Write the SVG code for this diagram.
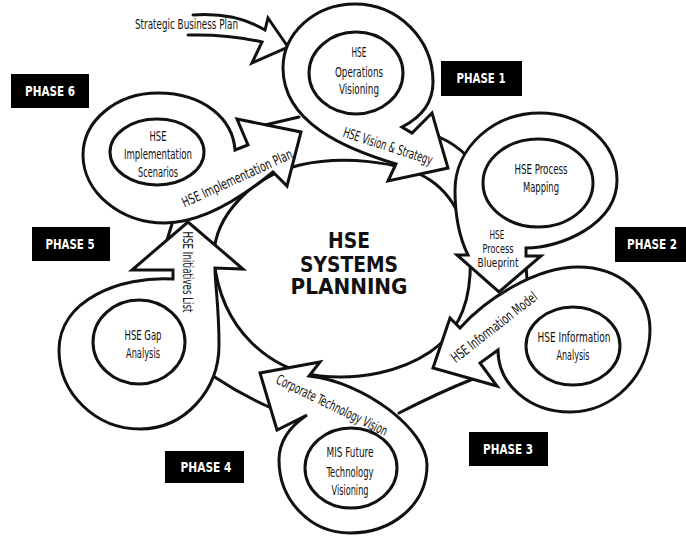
<svg xmlns="http://www.w3.org/2000/svg" width="686" height="536" viewBox="0 0 686 536">
<style>
.ln{fill:#fff;stroke:#111;stroke-width:3;stroke-linejoin:miter;stroke-linecap:round}
.cn{fill:none;stroke:#111;stroke-width:3;stroke-linecap:round}
.ar{fill:#fff;stroke:#111;stroke-width:3;stroke-linejoin:miter;stroke-linecap:round}
.t{font-family:'DejaVu Sans Condensed','Liberation Sans Narrow','Liberation Sans',sans-serif;font-size:14px;fill:#111;text-anchor:middle}
.s{font-size:11.5px}
.pb{fill:#000}
.pt{font-family:'DejaVu Sans Condensed','DejaVu Sans','Liberation Sans',sans-serif;font-weight:bold;font-size:14px;fill:#fff;text-anchor:middle}
.ct{font-family:'DejaVu Sans','Liberation Sans',sans-serif;font-weight:900;font-size:21px;fill:#111;text-anchor:middle}
</style>
<rect width="686" height="536" fill="#fff"/>

<g id="center">
<path class="ln" d="M 214,260 C 212,215 255,175 300,165 C 340,156 400,160 430,180 C 460,200 472,240 470,275 C 468,310 455,335 430,352 C 400,372 360,380 320,376 C 270,370 221,330 214,260 Z"/>
<text class="ct" x="349" y="248" textLength="42" lengthAdjust="spacingAndGlyphs">HSE</text>
<text class="ct" x="349" y="272" textLength="98" lengthAdjust="spacingAndGlyphs">SYSTEMS</text>
<text class="ct" x="349" y="294" textLength="117" lengthAdjust="spacingAndGlyphs">PLANNING</text>
</g>

<g id="connectors">
<path class="cn" d="M 265,125 L 299,117"/>
<path class="cn" d="M 439,137 Q 455,144 467,156"/>
<path class="cn" d="M 526,266 L 527,279"/>
<path class="cn" d="M 473,379 Q 440,392 399,413"/>
<path class="cn" d="M 213,376 Q 240,394 269,407"/>
<path class="cn" d="M 167,240 L 172,224"/>
<path class="ar" d="M 193,15 Q 235,12 265,30 L 268,18 L 288,47 L 252,63 L 262,42 Q 228,34 188,35"/>
<text class="t" x="186.5" y="29" textLength="103" lengthAdjust="spacingAndGlyphs">Strategic Business Plan</text>
</g>

<g id="phase1">
<path class="ln" d="M 402,127 C 420,118 433,104 433,82 C 433,39 398,4 355,4 C 315,4 283,33 283,68 C 283,123 346,149 396,164 L 388,181 L 448,168 L 432,113 L 412,133 Z"/>
<ellipse class="ln" cx="356" cy="73" rx="47" ry="41"/>
<text class="t" x="359" y="57" textLength="15" lengthAdjust="spacingAndGlyphs">HSE</text>
<text class="t" x="359" y="77" textLength="48" lengthAdjust="spacingAndGlyphs">Operations</text>
<text class="t" x="359" y="94" textLength="40" lengthAdjust="spacingAndGlyphs">Visioning</text>
<text class="t" transform="translate(388,146) rotate(18)" y="5" textLength="93" lengthAdjust="spacingAndGlyphs">HSE Vision &amp; Strategy</text>
</g>

<g id="phase2">
<path class="ln" d="M 526,256 L 526,248 C 560,248 617,225 617,180 C 617,143 582,113 540,113 C 493,113 455,148 455,190 C 455,225 462,243 468,255 L 457,255 L 499,292 L 541,256 Z"/>
<ellipse class="ln" cx="538" cy="183" rx="55" ry="44"/>
<text class="t" x="541" y="174" textLength="53" lengthAdjust="spacingAndGlyphs">HSE Process</text>
<text class="t" x="541" y="192" textLength="36" lengthAdjust="spacingAndGlyphs">Mapping</text>
<text class="t s" x="497" y="239" textLength="15" lengthAdjust="spacingAndGlyphs">HSE</text>
<text class="t s" x="498" y="253" textLength="31" lengthAdjust="spacingAndGlyphs">Process</text>
<text class="t s" x="498" y="267" textLength="41" lengthAdjust="spacingAndGlyphs">Blueprint</text>
</g>

<g id="phase3">
<path class="ln" d="M 498,350 C 498,385 530,412 570,412 C 614,412 650,374 650,330 C 650,292 618,267 578,267 C 535,267 485,300 460,328 L 450,318 L 433,368 L 497,386 L 480,363 Z"/>
<ellipse class="ln" cx="573" cy="346" rx="47" ry="39"/>
<text class="t" x="574" y="342" textLength="73" lengthAdjust="spacingAndGlyphs">HSE Information</text>
<text class="t" x="573" y="360" textLength="33" lengthAdjust="spacingAndGlyphs">Analysis</text>
<text class="t" transform="translate(494,327) rotate(-38)" y="5" textLength="105" lengthAdjust="spacingAndGlyphs">HSE Information Model</text>
</g>

<g id="phase4">
<path class="ln" d="M 307,415 C 292,425 279,440 279,460 C 279,500 310,533 350,533 C 392,533 427,505 427,465 C 427,430 365,382 309,376 L 320,362 L 260,373 L 277,430 Z"/>
<ellipse class="ln" cx="351" cy="468" rx="46" ry="40"/>
<text class="t" x="350" y="457" textLength="47" lengthAdjust="spacingAndGlyphs">MIS Future</text>
<text class="t" x="350" y="477" textLength="47" lengthAdjust="spacingAndGlyphs">Technology</text>
<text class="t" x="350" y="495" textLength="37" lengthAdjust="spacingAndGlyphs">Visioning</text>
<text class="t" transform="translate(332,405) rotate(26)" y="5" textLength="122" lengthAdjust="spacingAndGlyphs">Corporate Technology Vision</text>
</g>

<g id="phase5">
<path class="ln" d="M 173,279 C 120,276 59,300 59,350 C 59,394 96,429 140,429 C 185,429 219,390 219,345 C 219,305 215,285 215,268 L 243,269 L 188,222 L 132,270 L 173,270 Z"/>
<ellipse class="ln" cx="139" cy="342" rx="46" ry="42"/>
<text class="t" x="143" y="340" textLength="37" lengthAdjust="spacingAndGlyphs">HSE Gap</text>
<text class="t" x="143" y="358" textLength="34" lengthAdjust="spacingAndGlyphs">Analysis</text>
<text class="t" transform="translate(188,272) rotate(90)" y="5" textLength="81" lengthAdjust="spacingAndGlyphs">HSE Initiatives List</text>
</g>

<g id="phase6">
<path class="ln" d="M 235,150 C 233,120 205,93 158,93 C 116,93 83,121 83,155 C 83,192 120,223 165,223 C 205,223 245,195 273,172 L 287,186 L 301,132 L 237,119 L 248,145 Z"/>
<ellipse class="ln" cx="157" cy="152" rx="47" ry="33"/>
<text class="t" x="158" y="141" textLength="17" lengthAdjust="spacingAndGlyphs">HSE</text>
<text class="t" x="158" y="159" textLength="68" lengthAdjust="spacingAndGlyphs">Implementation</text>
<text class="t" x="158" y="177" textLength="40" lengthAdjust="spacingAndGlyphs">Scenarios</text>
<text class="t" transform="translate(237,178) rotate(-24.6)" y="5" textLength="120" lengthAdjust="spacingAndGlyphs">HSE Implementation Plan</text>
</g>

<g id="phase-labels">
<rect class="pb" x="441" y="61" width="81" height="35"/>
<text class="pt" x="481" y="83" textLength="49" lengthAdjust="spacingAndGlyphs">PHASE 1</text>
<rect class="pb" x="615" y="227" width="71" height="35"/>
<text class="pt" x="652" y="249" textLength="50" lengthAdjust="spacingAndGlyphs">PHASE 2</text>
<rect class="pb" x="469" y="432" width="79" height="34"/>
<text class="pt" x="508" y="454" textLength="50" lengthAdjust="spacingAndGlyphs">PHASE 3</text>
<rect class="pb" x="165" y="451" width="79" height="32"/>
<text class="pt" x="206" y="472" textLength="51" lengthAdjust="spacingAndGlyphs">PHASE 4</text>
<rect class="pb" x="32" y="227" width="78" height="34"/>
<text class="pt" x="70" y="249" textLength="49" lengthAdjust="spacingAndGlyphs">PHASE 5</text>
<rect class="pb" x="11" y="74" width="78" height="34"/>
<text class="pt" x="50" y="96" textLength="50" lengthAdjust="spacingAndGlyphs">PHASE 6</text>
</g>
</svg>
